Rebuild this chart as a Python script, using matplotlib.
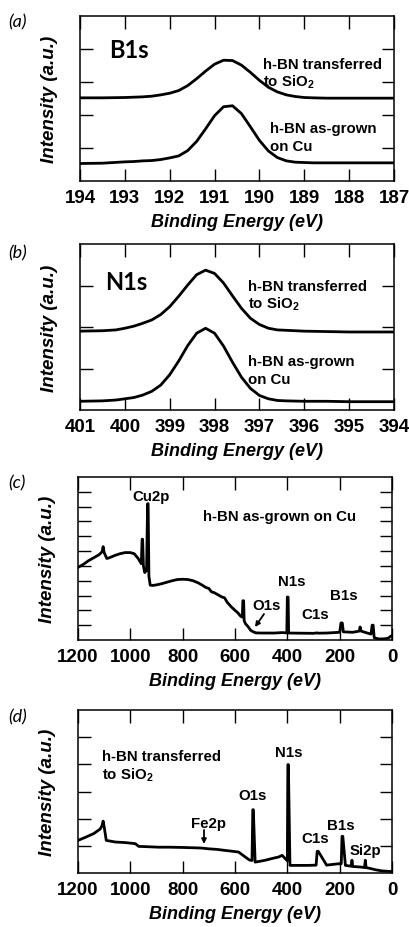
import matplotlib
matplotlib.use("Agg")
import matplotlib.pyplot as plt

W, H = 409, 928

# (a) B1s core level
B1S_E = [194.0, 193.5, 193.0, 192.8, 192.6, 192.4, 192.2, 192.0, 191.8, 191.6,
         191.4, 191.2, 191.0, 190.8, 190.6, 190.4, 190.2, 190.0, 189.8, 189.6,
         189.4, 189.2, 189.0, 188.8, 188.5, 188.0, 187.5, 187.0]
B1S_TRANSFERRED = [2.52, 2.52, 2.53, 2.54, 2.55, 2.57, 2.61, 2.66, 2.74, 2.89,
                   3.10, 3.33, 3.54, 3.66, 3.65, 3.51, 3.29, 3.05, 2.84, 2.70,
                   2.61, 2.56, 2.53, 2.52, 2.51, 2.51, 2.51, 2.51]
B1S_ASGROWN = [0.53, 0.54, 0.58, 0.59, 0.61, 0.62, 0.65, 0.70, 0.76, 0.92,
               1.20, 1.58, 1.98, 2.25, 2.28, 2.04, 1.64, 1.23, 0.91, 0.71,
               0.61, 0.57, 0.56, 0.55, 0.55, 0.55, 0.55, 0.55]

# (b) N1s core level
N1S_E = [401.0, 400.5, 400.2, 400.0, 399.8, 399.6, 399.4, 399.2, 399.0, 398.8,
         398.6, 398.4, 398.2, 398.0, 397.8, 397.6, 397.4, 397.2, 397.0, 396.8,
         396.6, 396.4, 396.0, 395.5, 395.0, 394.5, 394.0]
N1S_TRANSFERRED = [1.90, 1.91, 1.93, 1.97, 2.02, 2.09, 2.17, 2.30, 2.49, 2.74,
                   3.01, 3.26, 3.37, 3.29, 3.06, 2.75, 2.45, 2.21, 2.06, 1.97,
                   1.93, 1.92, 1.90, 1.89, 1.88, 1.88, 1.88]
N1S_ASGROWN = [0.21, 0.22, 0.24, 0.27, 0.30, 0.36, 0.45, 0.60, 0.85, 1.18,
               1.55, 1.85, 1.97, 1.85, 1.54, 1.15, 0.79, 0.52, 0.35, 0.27,
               0.23, 0.22, 0.21, 0.21, 0.20, 0.20, 0.20]

# (c) survey, as-grown on Cu
SURV_CU_E = [1200, 1180, 1160, 1140, 1120, 1108, 1104, 1100, 1090, 1080,
             1060, 1040, 1020, 1000, 985, 970, 958, 955, 953, 950,
             945, 938, 934, 932, 929, 924, 915, 900, 880, 860,
             840, 820, 800, 780, 760, 740, 725, 712, 700, 690,
             680, 665, 650, 640, 630, 615, 600, 590, 578, 572,
             570, 567, 565, 560, 550, 540, 530, 520, 500, 450,
             420, 402, 400, 397, 395, 350, 300, 286, 282, 250,
             200, 195, 190, 186, 150, 125, 122, 118, 100, 80,
             76, 72, 68, 50, 30, 15, 5, 0]
SURV_CU_I = [4.90, 5.10, 5.35, 5.55, 5.75, 5.95, 6.30, 5.90, 5.50, 5.55,
             5.70, 5.82, 5.90, 5.90, 5.82, 5.50, 5.15, 6.80, 6.80, 5.00,
             4.55, 4.70, 9.20, 9.20, 4.30, 3.70, 3.68, 3.72, 3.80, 3.90,
             4.00, 4.08, 4.10, 4.08, 4.00, 3.85, 3.70, 3.55, 3.48, 3.25,
             3.20, 3.05, 2.90, 2.85, 2.55, 2.25, 2.00, 1.85, 1.60, 1.55,
             2.65, 2.65, 1.30, 1.10, 0.90, 0.65, 0.55, 0.48, 0.47, 0.47,
             0.50, 0.48, 2.90, 2.90, 0.47, 0.46, 0.45, 0.48, 0.46, 0.47,
             0.52, 1.15, 1.15, 0.55, 0.52, 0.60, 0.88, 0.60, 0.50, 0.40,
             1.00, 1.00, 0.15, 0.07, 0.08, 0.12, 0.25, 0.30]

# (d) survey, transferred to SiO2
SURV_SI_E = [1200, 1170, 1140, 1115, 1108, 1104, 1100, 1092, 1080, 1057,
             1020, 981, 968, 940, 892, 850, 800, 764, 730, 701,
             670, 637, 610, 586, 561, 545, 535, 532, 530, 523,
             500, 484, 460, 433, 420, 410, 400, 398, 396, 390,
             360, 318, 290, 286, 282, 250, 204, 194, 191, 188,
             178, 156, 153, 150, 120, 105, 102, 99, 80, 64,
             40, 13, 0]
SURV_SI_I = [1.20, 1.32, 1.45, 1.62, 1.75, 1.91, 1.70, 1.20, 1.18, 1.14,
             1.12, 1.08, 0.98, 0.97, 0.95, 0.95, 0.94, 0.93, 0.92, 0.89,
             0.87, 0.83, 0.80, 0.77, 0.59, 0.48, 0.46, 2.33, 2.33, 0.40,
             0.44, 0.47, 0.53, 0.59, 0.65, 0.55, 0.45, 3.99, 3.99, 0.28,
             0.28, 0.28, 0.29, 0.80, 0.80, 0.29, 0.34, 0.34, 1.35, 1.35,
             0.28, 0.25, 0.47, 0.24, 0.22, 0.20, 0.47, 0.20, 0.16, 0.12,
             0.08, 0.06, 0.06]

plt.rcParams["font.family"] = ["Liberation Sans", "DejaVu Sans"]
plt.rcParams["mathtext.default"] = "regular"

fig = plt.figure(figsize=(W / 100, H / 100), dpi=100)


def add_panel(left, top, right, bottom):
    return fig.add_axes([left / W, 1 - bottom / H, (right - left) / W, (bottom - top) / H])


def txt(x, y, s, **kw):
    kw.setdefault("fontsize", 10.8)
    kw.setdefault("fontweight", "bold")
    kw.setdefault("va", "center")
    fig.text(x / W, 1 - y / H, s, **kw)


def arrow(x0, y0, x1, y1):
    fig.add_artist(matplotlib.patches.FancyArrowPatch(
        (x0 / W, 1 - y0 / H), (x1 / W, 1 - y1 / H), transform=fig.transFigure,
        arrowstyle="-|>", mutation_scale=7, lw=1.3, color="black",
        shrinkA=0, shrinkB=0))


def style(ax, xlim, xticks, ylim, yticks):
    ax.set_xlim(*xlim)
    ax.set_ylim(*ylim)
    ax.set_xticks(xticks)
    ax.set_yticks(yticks)
    ax.set_yticklabels([])
    ax.tick_params(direction="in", top=True, right=True, length=9, width=1.0,
                   pad=6, labelsize=13.5)
    for lab in ax.get_xticklabels():
        lab.set_fontweight("bold")
    for s in ax.spines.values():
        s.set_linewidth(1.1)
    ax.set_xlabel("Binding Energy (eV)", fontsize=13, fontweight="bold", fontstyle="italic")
    ax.set_ylabel("Intensity (a.u.)", fontsize=13.5, fontweight="bold", fontstyle="italic")
    h = ax.get_position().height * H
    w = ax.get_position().width * W
    ax.xaxis.set_label_coords(0.5, -32 / h)
    ax.yaxis.set_label_coords(-22 / w, 0.5)


# (a)
ax = add_panel(80, 17, 394, 182)
ax.plot(B1S_E, B1S_TRANSFERRED, color="black", lw=2.0)
ax.plot(B1S_E, B1S_ASGROWN, color="black", lw=2.0)
style(ax, (194, 187), [194, 193, 192, 191, 190, 189, 188, 187], (0, 5), [1, 2, 3, 4])
txt(8, 22, "(a)", family="Lato", fontweight="normal", fontstyle="italic", fontsize=13)
txt(129, 50, "B1s", family="Lato", fontsize=17, ha="center")
txt(263, 65, "h-BN transferred")
txt(263, 82, "to SiO$_2$")
txt(270, 129, "h-BN as-grown")
txt(270, 147, "on Cu")

# (b)
ax = add_panel(80, 245, 394, 411)
ax.plot(N1S_E, N1S_TRANSFERRED, color="black", lw=2.0)
ax.plot(N1S_E, N1S_ASGROWN, color="black", lw=2.0)
style(ax, (401, 394), [401, 400, 399, 398, 397, 396, 395, 394], (0, 4), [1, 2, 3])
txt(8, 253, "(b)", family="Lato", fontweight="normal", fontstyle="italic", fontsize=13)
txt(126, 282, "N1s", family="Lato", fontsize=17, ha="center")
txt(248, 287, "h-BN transferred")
txt(248, 304, "to SiO$_2$")
txt(248, 362, "h-BN as-grown")
txt(248, 380, "on Cu")

# (c)
ax = add_panel(78, 478, 392, 641)
ax.plot(SURV_CU_E, SURV_CU_I, color="black", lw=2.0)
style(ax, (1200, 0), [1200, 1000, 800, 600, 400, 200, 0], (0, 11), list(range(1, 11)))
txt(8, 483, "(c)", family="Lato", fontweight="normal", fontstyle="italic", fontsize=13)
txt(151, 497, "Cu2p", ha="center")
txt(203, 517, "h-BN as-grown on Cu")
txt(292, 582, "N1s", ha="center")
txt(267, 606, "O1s", ha="center")
txt(315, 615, "C1s", ha="center")
txt(344, 596, "B1s", ha="center")
arrow(264, 615, 255, 628)

# (d)
ax = add_panel(78, 711, 392, 874)
ax.plot(SURV_SI_E, SURV_SI_I, color="black", lw=2.0)
style(ax, (1200, 0), [1200, 1000, 800, 600, 400, 200, 0], (0, 6), [1, 2, 3, 4, 5])
txt(8, 717, "(d)", family="Lato", fontweight="normal", fontstyle="italic", fontsize=13)
txt(102, 757, "h-BN transferred")
txt(102, 775, "to SiO$_2$")
txt(289, 753, "N1s", ha="center")
txt(253, 796, "O1s", ha="center")
txt(208, 824, "Fe2p", ha="center")
txt(315, 839, "C1s", ha="center")
txt(341, 826, "B1s", ha="center")
txt(365, 851, "Si2p", ha="center")
arrow(204, 831, 204, 845)

fig.savefig("out.png", dpi=100)
